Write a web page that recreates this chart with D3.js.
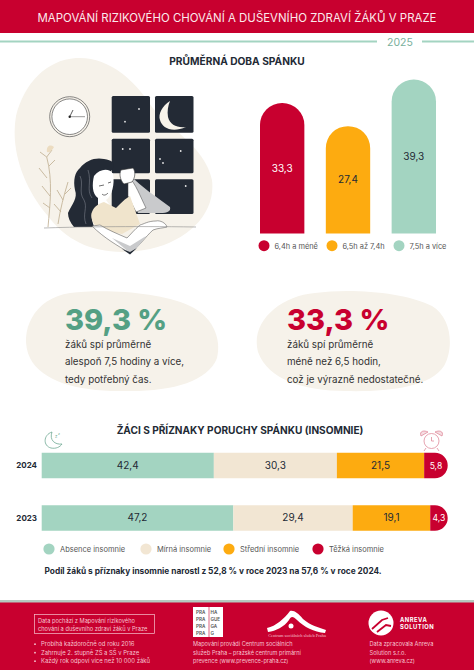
<!DOCTYPE html>
<html>
<head>
<meta charset="utf-8">
<script src="https://d3js.org/d3.v7.min.js"></script>
<style>
  html, body { margin: 0; padding: 0; background: #fff; }
  svg { display: block; }
  text { font-family: "Inter", "Open Sans", sans-serif; }
</style>
</head>
<body>
<svg id="chart"></svg>
<script>
// sleep duration bars
const sleepLabels = ["6,4h a méně", "6,5h až 7,4h", "7,5h a více"];
const sleepValues = [33.3, 27.4, 39.3];

// insomnia stacked bars
const years = ["2024", "2023"];
const insomniaKeys = ["Absence insomnie", "Mírná insomnie", "Střední insomnie", "Těžká insomnie"];
const values2024 = [42.4, 30.3, 21.5, 5.8];
const values2023 = [47.2, 29.4, 19.1, 4.3];

const red = "#c8002f";
const amber = "#fdab10";
const teal = "#a3d4c1";
const beige = "#f2e6d3";
const cream = "#f6f2ea";
const dark = "#232a35";
const numFmt = (v) => d3.format(".1f")(v).replace(".", ",");

const width = 474;
const height = 670;
const svg = d3.select("#chart").attr("width", width).attr("height", height);

// header
svg.append("rect").attr("width", width).attr("height", 33).attr("fill", red);
svg.append("text").attr("x", 237).attr("y", 22.3).attr("text-anchor", "middle")
    .attr("fill", "#fbe9ec").attr("font-size", 11.45).text("MAPOVÁNÍ RIZIKOVÉHO CHOVÁNÍ A DUŠEVNÍHO ZDRAVÍ ŽÁKŮ V PRAZE");
svg.append("line").attr("x1", 0).attr("x2", 377).attr("y1", 41.5).attr("y2", 41.5).attr("stroke", teal).attr("stroke-width", 2);
svg.append("line").attr("x1", 422).attr("x2", 474).attr("y1", 41.5).attr("y2", 41.5).attr("stroke", teal).attr("stroke-width", 2);
svg.append("text").attr("x", 400).attr("y", 46).attr("text-anchor", "middle")
    .attr("fill", "#79b09c").attr("font-size", 10.5).text("2025");
svg.append("text").attr("x", 237).attr("y", 65).attr("text-anchor", "middle")
    .attr("fill", dark).attr("font-size", 10.2).attr("font-weight", 700).text("PRŮMĚRNÁ DOBA SPÁNKU");

// illustration
const art = svg.append("g");
art.append("path").attr("fill", cream)
    .attr("d", "M76 58C108 56 135 80 152 107C168 128 205 146 212 180C216 212 190 240 150 249C105 258 70 246 48 216C24 188 10 150 16 116C24 84 46 60 76 58Z");
// clock
art.append("circle").attr("cx", 69.7).attr("cy", 116.7).attr("r", 20).attr("fill", "none").attr("stroke", "#555").attr("stroke-width", 0.7);
art.append("circle").attr("cx", 69.7).attr("cy", 116.7).attr("r", 17.8).attr("fill", "#fff").attr("stroke", "#555").attr("stroke-width", 0.7);
art.append("path").attr("d", "M69.7 116.7L85 116.7").attr("stroke", "#999").attr("stroke-width", 1);
art.append("path").attr("d", "M69.7 116.7L73 110").attr("stroke", "#333").attr("stroke-width", 0.8);
art.append("circle").attr("cx", 69.7).attr("cy", 116.7).attr("r", 1.2).attr("fill", "#222");
// window
[[111.7, 96, 38.3, 36.7], [155, 96, 38.5, 36.7], [111.7, 138.7, 38.3, 34.6], [155, 138.7, 38.5, 34.6], [111.7, 179.3, 38.3, 34.7], [155, 179.3, 38.5, 34.7]]
    .forEach(([x, y, w, h]) => art.append("rect").attr("x", x).attr("y", y).attr("width", w).attr("height", h).attr("rx", 1.5).attr("fill", dark));
[[139, 109], [125, 121.7], [122.7, 149], [130, 149], [180.7, 151], [160, 159], [163, 163], [185.7, 186]]
    .forEach(([x, y]) => art.append("circle").attr("cx", x).attr("cy", y).attr("r", 0.9).attr("fill", "#e8e8e8"));
art.append("path").attr("fill", "#f8f4ea")
    .attr("d", "M170 101C162 106 158 114 160 120C162 128 172 133 186 127C177 128 170 125 168 117C167 111 168 106 170 101Z");
// plant
const stem = art.append("g").attr("fill", "none").attr("stroke", "#c4b498").attr("stroke-width", 0.9);
["M48 227C50 205 53 180 46.7 157", "M47 178L39 168", "M49 166L55 160", "M50 196L42 186", "M50 208L43 203", "M46.7 157L40 152", "M46.7 157L52 150",
 "M58 224C60 210 64 195 68 182", "M61 212L54 204", "M63 200L57 190", "M65 194L71 188"]
    .forEach((d) => stem.append("path").attr("d", d));
art.append("path").attr("fill", "#ecdcc0").attr("d", "M47 152C46 146 50 144 54 147C52 151 49 153 47 152Z");
// woman - hair
art.append("path").attr("fill", dark)
    .attr("d", "M68 213C72 204 78 198 75 190C73 180 75 172 80 168C86 160 96 157 104 159C112 160 116 163 112 170L100 180L104 205L92 220L94 227L74 227C70 222 68 218 68 213Z");
art.append("path").attr("d", "M80 176C84 184 78 192 84 200C88 208 82 214 86 224M88 170C92 182 86 190 92 198").attr("fill", "none").attr("stroke", "#8a8f98").attr("stroke-width", 0.5);
// raised arm, shaded part then light part
art.append("path").attr("fill", "#c9cacc")
    .attr("d", "M131 176C140 186 158 198 170 207C171 211 168 213 160 213L138 213L129 194Z");
art.append("path").attr("fill", "#fff").attr("stroke", "#444").attr("stroke-width", 0.5)
    .attr("d", "M128 176C136 184 140 196 146 208L136 212L128 196Z");
// hand
art.append("path").attr("fill", "#fff").attr("stroke", "#333").attr("stroke-width", 0.6)
    .attr("d", "M121 170L133 168C136 172 135 178 132 182L124 184C120 180 119 174 121 170Z");
// face + neck
art.append("path").attr("fill", "#fff")
    .attr("d", "M94 176C100 168 110 168 113 174C115 184 112 196 106 200L112 208L98 208L98 198C92 194 92 184 94 176Z");
art.append("path").attr("d", "M99 186L104 185M108 183L111 182M102 194C104 196 106 195 108 193").attr("fill", "none").attr("stroke", "#333").attr("stroke-width", 0.7);
// top
art.append("path").attr("fill", "#f0e4cc")
    .attr("d", "M92 212C94 206 100 203 104 202L116 208C120 204 126 198 130 196L140 224L122 234L112 232L96 226C92 222 90 216 92 212Z");
// lower arm on the table
art.append("path").attr("fill", "#fff").attr("stroke", "#444").attr("stroke-width", 0.5)
    .attr("d", "M92 226C104 238 118 246 130 253C138 248 146 236 153 230C158 228 164 228 167 227C166 223 160 220 156 221C148 221 144 224 140 225C134 230 131 234 127 238C118 234 108 230 100 225Z");
art.append("path").attr("fill", "#c9cacc").attr("d", "M112 238L130 253C136 250 142 242 146 236L130 246Z");
art.append("path").attr("fill", dark).attr("d", "M122 249L130 254.5L137 248L130 252Z");
art.append("path").attr("d", "M44 228C70 227 130 226 196 227").attr("fill", "none").attr("stroke", "#8c8c8c").attr("stroke-width", 0.6);

// sleep bars
const sleepY = d3.scaleLinear().domain([0, 39.3]).range([233.5, 79.5]);
const sleepX = d3.scaleBand().domain(sleepLabels).range([260, 436]).paddingInner(0.326).paddingOuter(0);
const sleepColor = d3.scaleOrdinal().domain(sleepLabels).range([red, amber, teal]);
const sleepInk = d3.scaleOrdinal().domain(sleepLabels).range(["#fff", dark, dark]);

const topRounded = (x, y, w, h, r) =>
    `M${x},${y + h}V${y + r}A${r},${r} 0 0 1 ${x + r},${y}H${x + w - r}A${r},${r} 0 0 1 ${x + w},${y + r}V${y + h}Z`;

const sleepBars = svg.append("g").selectAll("g").data(sleepLabels).enter().append("g");
sleepBars.append("path")
    .attr("fill", (d) => sleepColor(d))
    .attr("d", (d, i) => topRounded(sleepX(d), sleepY(sleepValues[i]), sleepX.bandwidth(), sleepY(0) - sleepY(sleepValues[i]), 22));
sleepBars.append("text")
    .attr("x", (d) => sleepX(d) + sleepX.bandwidth() / 2)
    .attr("y", (d, i) => (sleepY(sleepValues[i]) + sleepY(0)) / 2 + 3.5)
    .attr("text-anchor", "middle").attr("font-size", 10)
    .attr("fill", (d) => sleepInk(d))
    .text((d, i) => numFmt(sleepValues[i]));

const sleepLegendX = d3.scaleOrdinal().domain(sleepLabels).range([264, 332, 399]);
const sleepLegend = svg.append("g").selectAll("g").data(sleepLabels).enter().append("g")
    .attr("transform", (d) => `translate(${sleepLegendX(d)},245.7)`);
sleepLegend.append("circle").attr("r", 5.5).attr("fill", (d) => sleepColor(d));
sleepLegend.append("text").attr("x", 10.5).attr("y", 2.8).attr("font-size", 7.4).attr("fill", "#555").text((d) => d);

// callouts
const calloutBlobs = [
    "M70 293C105 289 160 292 190 306C212 316 222 338 217 358C208 382 170 392 125 391C80 392 42 382 30 358C18 332 34 298 70 293Z",
    "M315 293C350 288 405 292 432 306C452 318 454 348 444 366C430 388 385 392 345 391C305 391 268 380 258 352C250 322 280 296 315 293Z"
];
calloutBlobs.forEach((d) => svg.append("path").attr("d", d).attr("fill", cream));

const bigStats = ["39,3 %", "33,3 %"];
const bigX = [65, 287];
const bigColor = ["#54a084", red];
const calloutLines = [
    ["žáků spí průměrně", "alespoň 7,5 hodiny a více,", "tedy potřebný čas."],
    ["žáků spí průměrně", "méně než 6,5 hodin,", "což je výrazně nedostatečné."]
];
bigStats.forEach((s, i) => {
    svg.append("text").attr("x", bigX[i]).attr("y", 330).attr("font-size", 29).attr("font-weight", 800).attr("fill", bigColor[i]).text(s);
    svg.selectAll(null).data(calloutLines[i]).enter().append("text")
        .attr("x", bigX[i]).attr("y", (d, j) => 347.5 + j * 17.5)
        .attr("font-size", 9.8).attr("fill", "#333").text((d) => d);
});

// insomnia section
svg.append("text").attr("x", 240).attr("y", 434).attr("text-anchor", "middle")
    .attr("fill", dark).attr("font-size", 10.1).attr("font-weight", 700).text("ŽÁCI S PŘÍZNAKY PORUCHY SPÁNKU (INSOMNIE)");

const stackRows = [values2024, values2023].map((vals, i) => {
    const row = { year: years[i] };
    insomniaKeys.forEach((k, j) => { row[k] = vals[j]; });
    return row;
});
const stacked = d3.stack().keys(insomniaKeys)(stackRows);
const stackX = d3.scaleLinear().domain([0, 100]).range([41.7, 447.7]);
const stackY = d3.scaleBand().domain(years).range([452.7, 530.7]).paddingInner(0.515);
const stackColor = d3.scaleOrdinal().domain(insomniaKeys).range([teal, beige, amber, red]);
const stackInk = d3.scaleOrdinal().domain(insomniaKeys).range([dark, dark, dark, "#fff"]);

const rightRounded = (x, y, w, h) => {
    const r = Math.min(w, h / 2);
    return `M${x},${y}H${x + w - r}A${r},${r} 0 0 1 ${x + w},${y + r}V${y + h - r}A${r},${r} 0 0 1 ${x + w - r},${y + h}H${x}Z`;
};

const layers = svg.append("g").selectAll("g").data(stacked).enter().append("g");
layers.selectAll("path").data((d) => d.map((p) => ({ p, key: d.key }))).enter().append("path")
    .attr("fill", (d) => stackColor(d.key))
    .attr("d", (d) => {
        const x = stackX(d.p[0]), w = stackX(d.p[1]) - stackX(d.p[0]), y = stackY(d.p.data.year), h = stackY.bandwidth();
        return d.key === insomniaKeys[3] ? rightRounded(x, y, w, h) : `M${x},${y}h${w}v${h}h${-w}Z`;
    });
layers.selectAll("text").data((d) => d.map((p) => ({ p, key: d.key }))).enter().append("text")
    .attr("x", (d) => (stackX(d.p[0]) + stackX(d.p[1])) / 2)
    .attr("y", (d) => stackY(d.p.data.year) + stackY.bandwidth() / 2 + 3.4)
    .attr("text-anchor", "middle")
    .attr("font-size", (d) => (d.key === insomniaKeys[3] ? 8.6 : 10)) // the thin end segment needs a smaller label
    .attr("fill", (d) => stackInk(d.key))
    .text((d) => numFmt(d.p[1] - d.p[0]));

svg.append("g").selectAll("text").data(years).enter().append("text")
    .attr("x", 37).attr("y", (d) => stackY(d) + stackY.bandwidth() / 2 + 3)
    .attr("text-anchor", "end").attr("font-size", 8).attr("font-weight", 700).attr("fill", dark).text((d) => d);

const stackLegendX = d3.scaleOrdinal().domain(insomniaKeys).range([49, 146, 229, 318]);
const stackLegend = svg.append("g").selectAll("g").data(insomniaKeys).enter().append("g")
    .attr("transform", (d) => `translate(${stackLegendX(d)},549)`);
stackLegend.append("circle").attr("r", 5.6).attr("fill", (d) => stackColor(d));
stackLegend.append("text").attr("x", 11).attr("y", 2.5).attr("font-size", 7.5).attr("fill", "#555").text((d) => d);

svg.append("text").attr("x", 44.5).attr("y", 574).attr("font-size", 8.3).attr("font-weight", 700).attr("fill", dark)
    .text("Podíl žáků s příznaky insomnie narostl z 52,8 % v roce 2023 na 57,6 % v roce 2024.");

// moon + alarm icons
svg.append("path").attr("fill", "#fff").attr("stroke", "#6fa893").attr("stroke-width", 0.8)
    .attr("d", "M52 432C43 435 43 446 51 448C56 449 60 447 62 444C55 445 49 440 52 432Z");
svg.append("text").attr("x", 55).attr("y", 438).attr("font-size", 4.5).attr("fill", "#6fa893").text("z");
svg.append("text").attr("x", 58).attr("y", 435).attr("font-size", 3.5).attr("fill", "#6fa893").text("z");
const alarm = svg.append("g").attr("fill", "none").attr("stroke", "#df8b9c").attr("stroke-width", 0.8);
alarm.append("circle").attr("cx", 431.5).attr("cy", 441).attr("r", 7.5).attr("fill", "#fff");
alarm.append("path").attr("d", "M421 436C419 431 424 430 428 432Z").attr("fill", "#f6dde2");
alarm.append("path").attr("d", "M442 436C444 431 439 430 435 432Z").attr("fill", "#f6dde2");
alarm.append("path").attr("d", "M426 448L424 451M437 448L439 451M431.5 437V441L434 441");

// footer
svg.append("rect").attr("y", 600).attr("width", width).attr("height", 3).attr("fill", "#b5c9c0");
svg.append("rect").attr("y", 602.5).attr("width", width).attr("height", 67.5).attr("fill", red);
const footInk = "#f7c3cf";
svg.append("rect").attr("x", 34.5).attr("y", 614.5).attr("width", 120).attr("height", 19).attr("fill", "none").attr("stroke", footInk).attr("stroke-width", 0.7);

const boxLines = ["Data pochází z Mapování rizikového", "chování a duševního zdraví žáků v Praze"];
const bulletLines = ["Probíhá každoročně od roku 2016", "Zahrnuje 2. stupně ZŠ a SŠ v Praze", "Každý rok odpoví více než 10 000 žáků"];
const midLines = ["Mapování provádí Centrum sociálních", "služeb Praha – pražské centrum primární", "prevence (www.prevence-praha.cz)"];
const rightLines = ["Data zpracovala Anreva", "Solution s.r.o.", "(www.anreva.cz)"];
const footText = (lines, x, y0, step, size) => svg.append("g").selectAll("text").data(lines).enter().append("text")
    .attr("x", x).attr("y", (d, i) => y0 + i * step).attr("font-size", size).attr("fill", footInk).text((d) => d);
footText(boxLines, 38, 623, 7.6, 5.7);
footText(bulletLines, 41, 646, 8.5, 5.9);
svg.append("g").selectAll("circle").data(bulletLines).enter().append("circle")
    .attr("cx", 35).attr("cy", (d, i) => 644.2 + i * 8.5).attr("r", 0.9).attr("fill", footInk);
footText(midLines, 193, 646, 8.5, 5.6);
footText(rightLines, 369.5, 646, 8.5, 5.7);

// prague logo
const pragueLeft = ["PRA", "PRA", "PRA", "PRA"];
const pragueRight = ["HA", "GUE", "GA", "G"];
svg.append("rect").attr("x", 193).attr("y", 607).attr("width", 30).attr("height", 30).attr("fill", "#fff");
svg.append("line").attr("x1", 209).attr("x2", 209).attr("y1", 607).attr("y2", 637).attr("stroke", red).attr("stroke-width", 0.6);
pragueLeft.forEach((t, i) => {
    svg.append("text").attr("x", 196).attr("y", 614 + i * 7).attr("font-size", 4.6).attr("font-weight", 600).attr("fill", "#555").text(t);
    svg.append("text").attr("x", 210.5).attr("y", 614 + i * 7).attr("font-size", 4.6).attr("font-weight", 600).attr("fill", "#555").text(pragueRight[i]);
});

// centrum logo
svg.append("path").attr("fill", "#fff")
    .attr("d", "M267 628C276 626 284 619 290 611C294 610 298 613 303 619C311 626 318 627 326 630L325 633C314 632 304 627 297 620C293 616 291 616 289 620C284 627 276 631 268 632Z");
svg.append("circle").attr("cx", 291).attr("cy", 626).attr("r", 2.5).attr("fill", "#fff");
svg.append("text").attr("x", 297).attr("y", 636.5).attr("text-anchor", "middle")
    .style("font-family", "Liberation Serif").attr("font-size", 4.4).attr("fill", footInk).text("Centrum sociálních služeb Praha");

// anreva logo
svg.append("circle").attr("cx", 381).attr("cy", 623).attr("r", 12.5).attr("fill", "#fff");
svg.append("path").attr("d", "M372 629L382 620L388 618M377 632L386 625L391 626").attr("fill", "none").attr("stroke", red).attr("stroke-width", 1.8);
svg.append("text").attr("x", 400).attr("y", 622).attr("font-size", 5.8).attr("font-weight", 700).attr("letter-spacing", 0.5).attr("fill", "#fff").text("ANREVA");
svg.append("text").attr("x", 400).attr("y", 629).attr("font-size", 5.8).attr("font-weight", 700).attr("letter-spacing", 0.5).attr("fill", "#fff").text("SOLUTION");
</script>
</body>
</html>
